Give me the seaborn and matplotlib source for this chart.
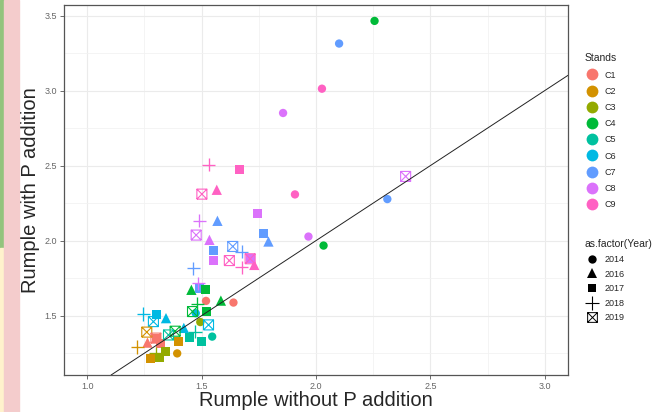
import numpy as np
import pandas as pd
import matplotlib
matplotlib.use("Agg")
import matplotlib.pyplot as plt
from matplotlib.path import Path
from matplotlib.markers import MarkerStyle
from matplotlib.lines import Line2D
from matplotlib.patches import Rectangle
import seaborn as sns

# Stands and colours (ggplot hue palette)
stands = ["C1", "C2", "C3", "C4", "C5", "C6", "C7", "C8", "C9"]
stand_colors = ["#F8766D", "#D39200", "#93AA00", "#00BA38", "#00C19F",
                "#00B9E3", "#619CFF", "#DB72FB", "#FF61C3"]
years = ["2014", "2016", "2017", "2018", "2019"]

# values, one group per year
stand_2014 = ["C4", "C7", "C9", "C8", "C9", "C8", "C4", "C7", "C1", "C1", "C6", "C3", "C5", "C2"]
x_2014 = [2.256, 2.101, 2.026, 1.856, 1.908, 1.967, 2.033, 2.312, 1.519, 1.639, 1.474, 1.494, 1.546, 1.393]
y_2014 = [3.465, 3.314, 3.013, 2.851, 2.308, 2.027, 1.967, 2.277, 1.598, 1.587, 1.516, 1.457, 1.360, 1.248]

stand_2016 = ["C9", "C7", "C7", "C8", "C9", "C4", "C4", "C6", "C6", "C1"]
x_2016 = [1.566, 1.569, 1.792, 1.534, 1.730, 1.455, 1.584, 1.344, 1.422, 1.263]
y_2016 = [2.339, 2.132, 1.994, 2.005, 1.838, 1.672, 1.600, 1.483, 1.418, 1.320]

stand_2017 = ["C9", "C8", "C7", "C7", "C8", "C8", "C7", "C4", "C4", "C5", "C5", "C2",
              "C6", "C1", "C1", "C2", "C3", "C3"]
x_2017 = [1.664, 1.744, 1.770, 1.551, 1.551, 1.712, 1.490, 1.515, 1.522, 1.501, 1.448, 1.398,
          1.304, 1.304, 1.318, 1.278, 1.315, 1.340]
y_2017 = [2.473, 2.184, 2.050, 1.932, 1.865, 1.879, 1.680, 1.672, 1.527, 1.326, 1.355, 1.326,
          1.505, 1.349, 1.316, 1.216, 1.222, 1.260]

stand_2018 = ["C9", "C8", "C7", "C9", "C7", "C8", "C4", "C5", "C6", "C2", "C3"]
x_2018 = [1.530, 1.490, 1.676, 1.676, 1.464, 1.486, 1.480, 1.471, 1.245, 1.218, 1.300]
y_2018 = [2.506, 2.132, 1.927, 1.823, 1.816, 1.716, 1.578, 1.393, 1.511, 1.291, 1.250]

stand_2019 = ["C8", "C9", "C8", "C7", "C9", "C9", "C4", "C6", "C4", "C5", "C6", "C2", "C1"]
x_2019 = [2.392, 1.501, 1.476, 1.636, 1.621, 1.712, 1.460, 1.530, 1.384, 1.355, 1.289, 1.260, 1.300]
y_2019 = [2.428, 2.310, 2.037, 1.961, 1.867, 1.879, 1.527, 1.438, 1.396, 1.371, 1.460, 1.390, 1.350]

frames = []
for yr, st, xs, ys in [("2014", stand_2014, x_2014, y_2014),
                       ("2016", stand_2016, x_2016, y_2016),
                       ("2017", stand_2017, x_2017, y_2017),
                       ("2018", stand_2018, x_2018, y_2018),
                       ("2019", stand_2019, x_2019, y_2019)]:
    frames.append(pd.DataFrame({"Stand": st, "Year": yr, "without": xs, "with": ys}))
df = pd.concat(frames, ignore_index=True)

# square with a cross (ggplot shape 7)
box_x = Path([(-1, -1), (1, -1), (1, 1), (-1, 1), (-1, -1), (-1, -1), (1, 1), (1, -1), (-1, 1)],
             [Path.MOVETO, Path.LINETO, Path.LINETO, Path.LINETO, Path.LINETO,
              Path.MOVETO, Path.LINETO, Path.MOVETO, Path.LINETO])

year_style = {
    "2014": dict(marker="o", s=36, linewidth=0),
    "2016": dict(marker="^", s=55, linewidth=0),
    "2017": dict(marker="s", s=42, linewidth=0),
    "2018": dict(marker="+", s=90, linewidth=0.95),
    "2019": dict(marker=box_x, s=52, linewidth=0.8),
}

sns.set_theme(style="white")
plt.rcParams["font.family"] = ["Liberation Sans", "DejaVu Sans"]

fig = plt.figure(figsize=(6.61, 4.12), dpi=100)
ax = fig.add_axes([64 / 661, 37 / 412, 504 / 661, 370 / 412])

palette = dict(zip(stands, stand_colors))
for yr in years:
    sub = df[df["Year"] == yr]
    n_before = len(ax.collections)
    sns.scatterplot(data=sub, x="without", y="with", hue="Stand", hue_order=stands,
                    palette=palette, legend=False, ax=ax, zorder=3, **year_style[yr])
    if yr == "2019":
        # line-art box: colour the strokes, leave the inside empty
        cols = [palette[s] for s in sub["Stand"]]
        for coll in ax.collections[n_before:]:
            coll.set_edgecolors(cols)
            coll.set_facecolors("none")

ax.axline((1.0, 1.0), slope=1, color="#222222", lw=0.7, zorder=4)

ax.set_xlim(0.898, 3.102)
ax.set_ylim(1.104, 3.571)
ax.set_xticks([1.0, 1.5, 2.0, 2.5, 3.0])
ax.set_yticks([1.5, 2.0, 2.5, 3.0, 3.5])
ax.set_xticks([1.25, 1.75, 2.25, 2.75], minor=True)
ax.set_yticks([1.25, 1.75, 2.25, 2.75, 3.25], minor=True)
ax.grid(True, which="major", color="#EBEBEB", lw=0.8, zorder=0)
ax.grid(True, which="minor", color="#F2F2F2", lw=0.6, zorder=0)
ax.set_axisbelow(True)
for sp in ax.spines.values():
    sp.set_color("#555555")
    sp.set_linewidth(0.9)
ax.tick_params(which="major", length=3, width=0.6, color="#555555",
               labelsize=6.5, labelcolor="#666666", pad=2, bottom=True, left=True)
ax.tick_params(which="minor", length=0)
ax.set_xlabel("Rumple without P addition", fontsize=14.5, labelpad=0)
ax.set_ylabel("Rumple with P addition", fontsize=14.5, labelpad=3)

# legends
stand_handles = [Line2D([], [], marker="o", linestyle="", markersize=8.5, color=c,
                        markeredgewidth=0) for c in stand_colors]
leg1 = fig.legend(stand_handles, stands, title="Stands", loc="upper left",
                  bbox_to_anchor=(578 / 661, 1 - 47 / 412), frameon=False,
                  fontsize=6.5, title_fontsize=7.5, labelspacing=0.8,
                  handletextpad=0.6, handlelength=1.6, alignment="left", borderpad=0.2)

year_handles = [
    Line2D([], [], marker="o", linestyle="", markersize=6, color="black", markeredgewidth=0),
    Line2D([], [], marker="^", linestyle="", markersize=7, color="black", markeredgewidth=0),
    Line2D([], [], marker="s", linestyle="", markersize=6, color="black", markeredgewidth=0),
    Line2D([], [], marker="+", linestyle="", markersize=10, color="black", markeredgewidth=0.8),
    Line2D([], [], marker=MarkerStyle(box_x, fillstyle="none"), linestyle="", markersize=7,
           color="black", markeredgewidth=0.7),
]
leg2 = fig.legend(year_handles, years, title="as.factor(Year)", loc="upper left",
                  bbox_to_anchor=(578 / 661, 1 - 233 / 412), frameon=False,
                  fontsize=6.5, title_fontsize=7.5, labelspacing=0.62,
                  handletextpad=0.6, handlelength=1.6, alignment="left", borderpad=0.2)

# coloured strips along the left edge
fig.patches.append(Rectangle((0, 1 - 248 / 412), 4 / 661, 248 / 412, transform=fig.transFigure,
                             color="#93C47D", zorder=0))
fig.patches.append(Rectangle((0, 0), 4 / 661, 1 - 248 / 412, transform=fig.transFigure,
                             color="#FFF2CC", zorder=0))
fig.patches.append(Rectangle((4 / 661, 0), 15 / 661, 1, transform=fig.transFigure,
                             color="#F4CCCC", zorder=0))

fig.savefig("out.png", dpi=100)
